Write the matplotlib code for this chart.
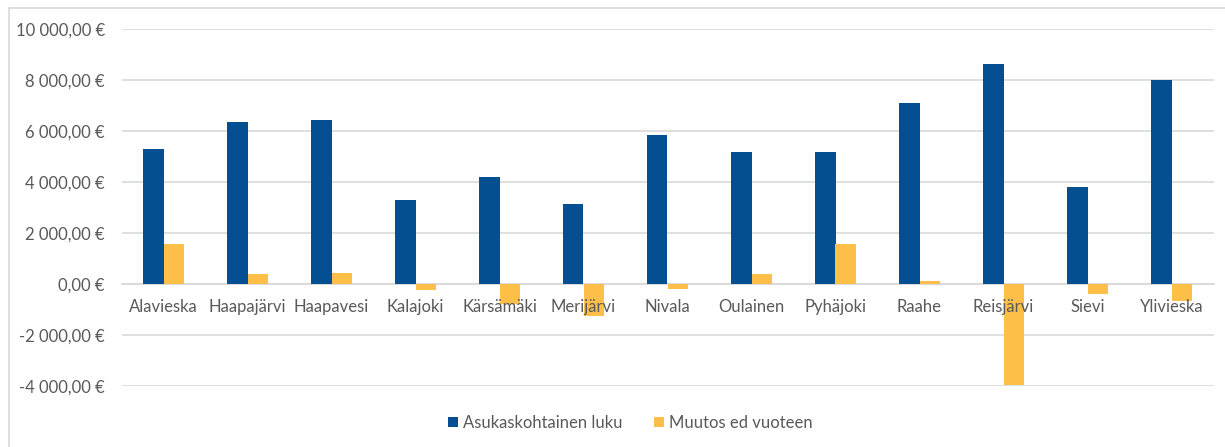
import matplotlib
matplotlib.use("Agg")
import matplotlib.pyplot as plt
from matplotlib.ticker import FuncFormatter, MultipleLocator
from matplotlib.patches import Rectangle
import numpy as np

categories = ["Alavieska", "Haapajärvi", "Haapavesi", "Kalajoki", "Kärsämäki", "Merijärvi",
              "Nivala", "Oulainen", "Pyhäjoki", "Raahe", "Reisjärvi", "Sievi", "Ylivieska"]
asukaskohtainen = [5280, 6350, 6420, 3310, 4200, 3140, 5840, 5170, 5170, 7110, 8640, 3810, 8000]
muutos = [1570, 390, 440, -250, -790, -1270, -200, 390, 1580, 130, -3960, -380, -680]
series_names = ["Asukaskohtainen luku", "Muutos ed vuoteen"]

plt.rcParams['font.family'] = ['Lato', 'DejaVu Sans']
TEXT = "#595959"
BLUE = "#034F91"
ORANGE = "#FDBF47"
FS = 12

fig = plt.figure(figsize=(12.25, 4.47), dpi=100)
ax = fig.add_axes([121.5/1225, 1-386/447, (1213.5-121.5)/1225, (386-29)/447])

x = np.arange(len(categories))
w = 0.24
ax.bar(x - w/2, asukaskohtainen, w, color=BLUE, label=series_names[0], zorder=3)
ax.bar(x + w/2, muutos, w, color=ORANGE, label=series_names[1], zorder=3)

ax.set_xlim(-0.5, len(categories) - 0.5)
ax.set_ylim(-4000, 10000)
ax.yaxis.set_major_locator(MultipleLocator(2000))

def fmt(v, pos):
    s = f"{abs(v):,.2f}".replace(",", " ").replace(".", ",")
    return ("-" if v < 0 else "") + s + " €"
ax.yaxis.set_major_formatter(FuncFormatter(fmt))
ax.grid(axis='y', color="#D9D9D9", linewidth=1.2)
ax.yaxis.set_zorder(0.5)
ax.xaxis.set_zorder(4)

for s in ['top', 'right', 'left']:
    ax.spines[s].set_visible(False)
ax.spines['bottom'].set_position(('data', 0))
ax.spines['bottom'].set_color("#D9D9D9")
ax.spines['bottom'].set_linewidth(1.2)
ax.spines['bottom'].set_zorder(2)

ax.set_xticks(x)
ax.set_xticklabels(categories)
ax.tick_params(axis='x', length=0, pad=11, labelsize=FS, labelcolor=TEXT)
ax.tick_params(axis='y', length=0, pad=12, labelsize=FS, labelcolor=TEXT)

leg = fig.legend(loc='center', bbox_to_anchor=(630/1225, 1-423/447), ncol=2, frameon=False,
                 fontsize=FS, handlelength=0.6, handleheight=0.6, columnspacing=1.9,
                 handletextpad=0.3)
for t in leg.get_texts():
    t.set_color(TEXT)

fig.patches.append(Rectangle((9/1225, -0.05), 1.2, 1-8/447+0.05, transform=fig.transFigure,
                             fill=False, edgecolor="#D9D9D9", linewidth=1.2))

fig.savefig("out.png", dpi=100, facecolor="white")
